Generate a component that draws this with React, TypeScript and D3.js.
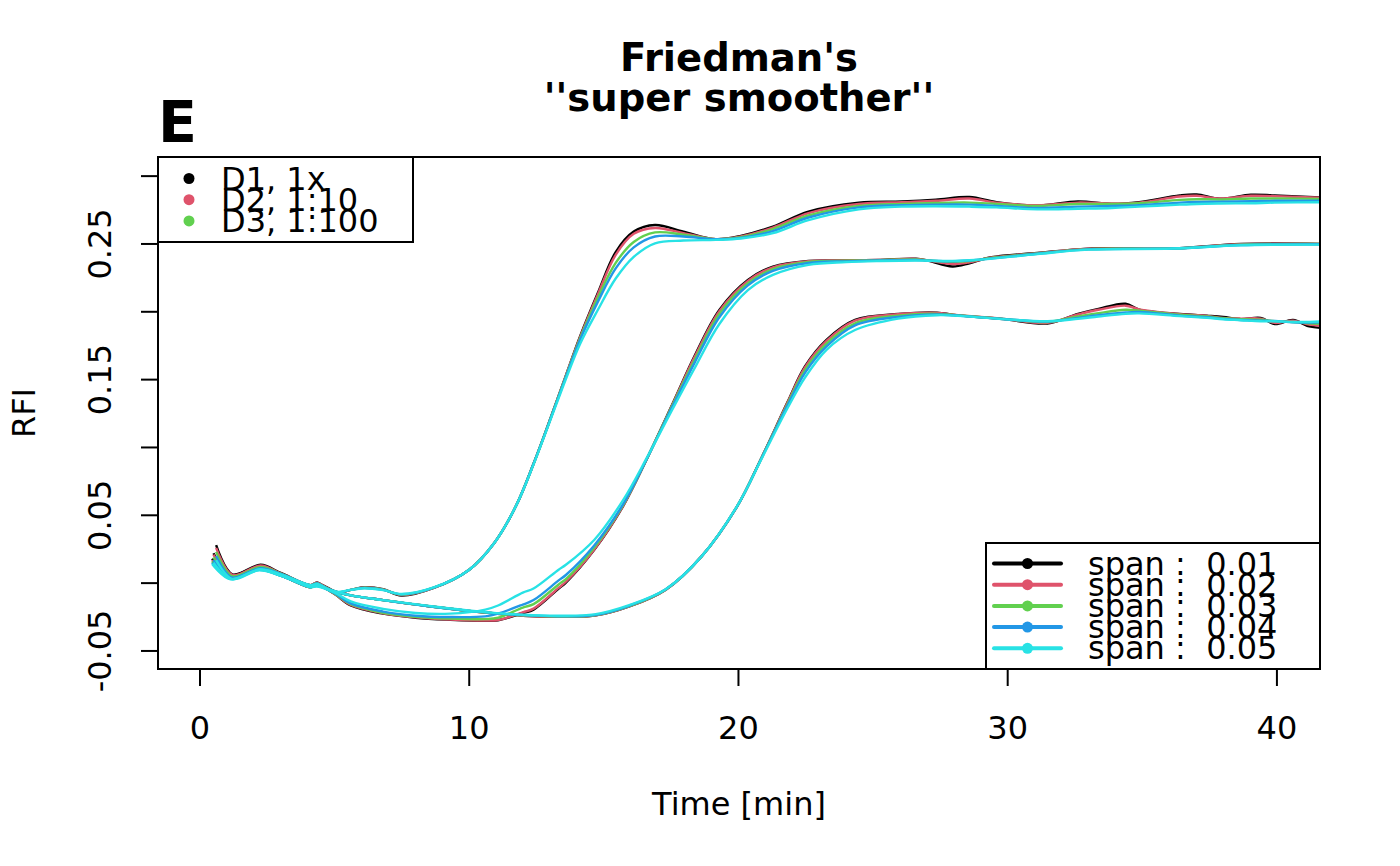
import React from 'react';
import * as d3 from 'd3';

// smoothing spans, in the legend's order
const spans = ['0.01', '0.02', '0.03', '0.04', '0.05'];
const spanColors = ['#000000', '#DF536B', '#61D04F', '#2297E6', '#28E2E5'];

const dataLabels = ['D1, 1x', 'D2, 1:10', 'D3, 1:100'];
const dataColors = ['#000000', '#DF536B', '#61D04F'];

const xTicks = [0, 10, 20, 30, 40];
const yTicks = [-0.05, 0, 0.05, 0.1, 0.15, 0.2, 0.25, 0.3];
const yLabels = [-0.05, 0.05, 0.15, 0.25];

// curve A (earliest rise)
const timeA = [0.6, 1.2, 2.25, 3.0, 4.1, 4.35, 5.0, 5.6, 6.1, 6.8, 7.48, 8.68, 10.0, 10.93, 11.73, 12.39, 12.92, 13.59, 14.12, 14.78, 15.44, 16.11, 16.9, 17.96, 19.16, 20.09, 21.28, 22.6, 24.47, 26.07, 27.33, 28.58, 29.59, 31.1, 32.61, 33.87, 34.88, 36.39, 37.02, 37.89, 39.03, 39.92, 41.8];
const a01 = [0.028, 0.0065, 0.0135, 0.0075, -0.0015, 0.0005, -0.0075, -0.005, -0.003, -0.0045, -0.0092, -0.0035, 0.0099, 0.0296, 0.0566, 0.088, 0.116, 0.153, 0.182, 0.214, 0.244, 0.2591, 0.264, 0.2591, 0.2535, 0.2559, 0.2628, 0.2738, 0.2804, 0.2813, 0.2826, 0.2846, 0.2808, 0.2783, 0.2813, 0.2795, 0.2808, 0.2858, 0.2865, 0.2833, 0.2863, 0.2858, 0.284];
const a02 = [0.026, 0.006, 0.013, 0.0072, -0.0015, 0.0003, -0.0072, -0.005, -0.0032, -0.0046, -0.0088, -0.0035, 0.0099, 0.0296, 0.0566, 0.088, 0.116, 0.153, 0.1815, 0.213, 0.242, 0.2575, 0.2618, 0.258, 0.2535, 0.2555, 0.262, 0.2728, 0.2795, 0.2808, 0.2818, 0.2835, 0.2805, 0.2785, 0.2805, 0.2798, 0.2805, 0.285, 0.2855, 0.2835, 0.2855, 0.2852, 0.284];
const a03 = [0.023, 0.005, 0.012, 0.007, -0.0015, 0.0, -0.007, -0.005, -0.0034, -0.0048, -0.0085, -0.0034, 0.0099, 0.0296, 0.0566, 0.088, 0.116, 0.1525, 0.1805, 0.2105, 0.236, 0.2515, 0.2585, 0.2568, 0.2535, 0.255, 0.261, 0.271, 0.278, 0.2795, 0.2802, 0.2805, 0.2795, 0.278, 0.2795, 0.2795, 0.28, 0.2825, 0.283, 0.2828, 0.2835, 0.2835, 0.2832];
const a04 = [0.02, 0.004, 0.011, 0.0068, -0.0015, -0.0003, -0.0068, -0.005, -0.0036, -0.005, -0.0082, -0.0033, 0.0099, 0.0296, 0.0566, 0.088, 0.1158, 0.152, 0.1795, 0.2075, 0.232, 0.2475, 0.2555, 0.2555, 0.2535, 0.2545, 0.2595, 0.2695, 0.277, 0.2785, 0.279, 0.279, 0.278, 0.2765, 0.2775, 0.278, 0.2785, 0.2805, 0.281, 0.2812, 0.2815, 0.2818, 0.2818];
const a05 = [0.017, 0.003, 0.01, 0.0065, -0.0015, -0.0006, -0.0065, -0.005, -0.0038, -0.0052, -0.008, -0.0032, 0.0099, 0.0296, 0.0566, 0.0875, 0.1152, 0.1505, 0.1765, 0.2015, 0.2245, 0.2405, 0.2505, 0.2525, 0.253, 0.254, 0.258, 0.2675, 0.2755, 0.2775, 0.2778, 0.2775, 0.277, 0.2755, 0.276, 0.2765, 0.2775, 0.279, 0.2795, 0.2798, 0.28, 0.2805, 0.2808];

// curve B (middle rise)
const timeB = [0.5, 1.15, 2.2, 3.0, 4.1, 4.35, 5.0, 5.6, 6.8, 8.0, 9.3, 10.6, 11.07, 11.99, 12.39, 13.32, 13.59, 14.65, 15.71, 16.64, 17.57, 18.36, 19.29, 20.35, 21.28, 22.6, 24.0, 25.26, 26.59, 27.06, 27.95, 28.58, 29.34, 31.1, 32.99, 36.14, 38.66, 41.8];
const b01 = [0.022, 0.006, 0.012, 0.006, -0.003, -0.001, -0.008, -0.0165, -0.0225, -0.0255, -0.027, -0.0278, -0.0274, -0.022, -0.0195, -0.004, 0.0004, 0.0247, 0.0566, 0.0934, 0.1329, 0.167, 0.2014, 0.2235, 0.2333, 0.2375, 0.2378, 0.2382, 0.2391, 0.2376, 0.2334, 0.2358, 0.24, 0.2433, 0.2466, 0.2466, 0.25, 0.25];
const b02 = [0.021, 0.0055, 0.0115, 0.006, -0.003, -0.0012, -0.008, -0.016, -0.0222, -0.0252, -0.0268, -0.0275, -0.0272, -0.0215, -0.0188, -0.0035, 0.001, 0.025, 0.0568, 0.0934, 0.1325, 0.1662, 0.2005, 0.2228, 0.2328, 0.2373, 0.2378, 0.2382, 0.239, 0.2378, 0.2352, 0.2365, 0.2398, 0.2432, 0.2465, 0.2466, 0.2498, 0.25];
const b03 = [0.019, 0.005, 0.011, 0.0058, -0.003, -0.0015, -0.0078, -0.0155, -0.0218, -0.0248, -0.0262, -0.0265, -0.0255, -0.018, -0.0155, -0.001, 0.003, 0.0265, 0.0575, 0.0934, 0.132, 0.164, 0.1985, 0.221, 0.2315, 0.2368, 0.2376, 0.2381, 0.2386, 0.2378, 0.2368, 0.2374, 0.2395, 0.243, 0.2462, 0.2466, 0.2495, 0.25];
const b04 = [0.017, 0.004, 0.0105, 0.0056, -0.003, -0.002, -0.0075, -0.015, -0.021, -0.024, -0.025, -0.0245, -0.0225, -0.0158, -0.0125, 0.002, 0.006, 0.028, 0.058, 0.0934, 0.131, 0.162, 0.196, 0.2195, 0.2302, 0.236, 0.2372, 0.2378, 0.2382, 0.2377, 0.2372, 0.2378, 0.2392, 0.2428, 0.246, 0.2466, 0.2492, 0.2498];
const b05 = [0.015, 0.003, 0.01, 0.0055, -0.003, -0.0025, -0.007, -0.0135, -0.019, -0.022, -0.0225, -0.0195, -0.0165, -0.007, -0.004, 0.0099, 0.0135, 0.032, 0.061, 0.094, 0.129, 0.158, 0.191, 0.216, 0.2272, 0.2346, 0.2366, 0.2374, 0.2378, 0.2376, 0.2375, 0.238, 0.239, 0.2425, 0.2458, 0.2466, 0.249, 0.2495];

// curve C (latest rise)
const timeC = [0.45, 1.1, 2.2, 3.0, 4.1, 4.35, 5.0, 5.6, 6.8, 8.5, 10.5, 12.0, 13.3, 14.65, 15.97, 17.3, 18.63, 19.95, 20.88, 21.81, 22.47, 23.27, 24.33, 25.93, 27.38, 28.0, 29.84, 31.48, 32.61, 33.37, 34.38, 34.88, 36.39, 37.4, 38.0, 38.66, 39.4, 39.92, 40.6, 41.2, 41.8];
const c01 = [0.018, 0.005, 0.011, 0.0055, -0.002, 0.0, -0.006, -0.009, -0.0125, -0.017, -0.0215, -0.024, -0.0248, -0.024, -0.017, -0.0048, 0.0197, 0.0566, 0.0934, 0.1329, 0.1597, 0.1793, 0.194, 0.1984, 0.1994, 0.1977, 0.1946, 0.1914, 0.1984, 0.2021, 0.2059, 0.2016, 0.1984, 0.1971, 0.1962, 0.1946, 0.1955, 0.191, 0.194, 0.1892, 0.188];
const c02 = [0.017, 0.0045, 0.0105, 0.0055, -0.002, -0.0005, -0.006, -0.009, -0.0125, -0.017, -0.0215, -0.024, -0.0248, -0.024, -0.017, -0.0048, 0.0197, 0.0566, 0.0933, 0.1325, 0.159, 0.1785, 0.1935, 0.1982, 0.1992, 0.1978, 0.1948, 0.1918, 0.198, 0.2015, 0.2045, 0.2018, 0.1983, 0.197, 0.1955, 0.195, 0.195, 0.1918, 0.1935, 0.1905, 0.1895];
const c03 = [0.016, 0.004, 0.01, 0.0055, -0.002, -0.001, -0.006, -0.009, -0.0125, -0.017, -0.0215, -0.0238, -0.0246, -0.0238, -0.0168, -0.0047, 0.0197, 0.0566, 0.0932, 0.1315, 0.157, 0.1765, 0.1915, 0.1972, 0.1985, 0.1976, 0.1948, 0.1925, 0.1965, 0.199, 0.2015, 0.2008, 0.1978, 0.1965, 0.1952, 0.1945, 0.1942, 0.193, 0.1925, 0.1915, 0.191];
const c04 = [0.015, 0.0035, 0.0098, 0.0055, -0.002, -0.0015, -0.006, -0.009, -0.0125, -0.017, -0.0214, -0.0236, -0.0244, -0.0235, -0.0165, -0.0046, 0.0197, 0.0566, 0.093, 0.1305, 0.155, 0.1745, 0.19, 0.1962, 0.198, 0.1974, 0.1947, 0.1928, 0.1955, 0.1975, 0.1995, 0.1998, 0.1972, 0.196, 0.1948, 0.194, 0.1935, 0.1932, 0.1922, 0.192, 0.1925];
const c05 = [0.014, 0.003, 0.0095, 0.0055, -0.002, -0.002, -0.006, -0.009, -0.0125, -0.0168, -0.0212, -0.0233, -0.024, -0.023, -0.016, -0.0045, 0.0197, 0.0568, 0.0925, 0.1285, 0.1515, 0.172, 0.1866, 0.195, 0.1975, 0.1972, 0.1946, 0.193, 0.1948, 0.1965, 0.1985, 0.1988, 0.1968, 0.1955, 0.1945, 0.1938, 0.193, 0.193, 0.1925, 0.1925, 0.193];

const curves = [
  { time: timeA, spans: [a01, a02, a03, a04, a05] },
  { time: timeB, spans: [b01, b02, b03, b04, b05] },
  { time: timeC, spans: [c01, c02, c03, c04, c05] },
];

const W = 1400;
const H = 866;
const font = 'DejaVu Sans, sans-serif';

export default function App() {
  const left = 158, right = 1320, top = 157, bottom = 669;
  const x = d3.scaleLinear().domain([-1.56, 41.6]).range([left, right]);
  const y = d3.scaleLinear().domain([-0.0633, 0.3141]).range([bottom, top]);

  const line = d3
    .line<[number, number]>()
    .x((d) => x(d[0]))
    .y((d) => y(d[1]))
    .curve(d3.curveCatmullRom.alpha(0.5));

  const fs = 32;
  const rowH = 21.2;

  return (
    <div style={{ position: 'absolute', left: 0, top: 0 }}>
      <svg width={W} height={H} viewBox={`0 0 ${W} ${H}`} fontFamily={font}>
        <rect width={W} height={H} fill="#fff" />
        <defs>
          <clipPath id="plot-clip">
            <rect x={left} y={top} width={right - left} height={bottom - top} />
          </clipPath>
        </defs>

        {/* title */}
        <text x={(left + right) / 2} y={71} textAnchor="middle" fontSize={38.5} fontWeight="bold">Friedman's</text>
        <text x={(left + right) / 2} y={111} textAnchor="middle" fontSize={38.5} fontWeight="bold">''super smoother''</text>
        <text x={left} y={142} fontSize={57} fontWeight="bold">E</text>

        {/* lines: each span drawn over the previous one */}
        <g clipPath="url(#plot-clip)">
          {spans.map((s, si) =>
            curves.map((c, ci) => (
              <path
                key={`${si}-${ci}`}
                d={line(c.time.map((t, i) => [t, c.spans[si][i]] as [number, number])) || undefined}
                fill="none"
                stroke={spanColors[si]}
                strokeWidth={2.4}
                strokeLinejoin="round"
              />
            ))
          )}
        </g>

        <rect x={left} y={top} width={right - left} height={bottom - top} fill="none" stroke="#000" strokeWidth={2} />

        {/* x axis */}
        <line x1={x(xTicks[0])} x2={x(xTicks[xTicks.length - 1])} y1={bottom} y2={bottom} stroke="#000" strokeWidth={2} />
        {xTicks.map((t) => (
          <g key={t}>
            <line x1={x(t)} x2={x(t)} y1={bottom} y2={bottom + 17} stroke="#000" strokeWidth={2} />
            <text x={x(t)} y={739} textAnchor="middle" fontSize={fs}>{t}</text>
          </g>
        ))}
        <text x={(left + right) / 2} y={815} textAnchor="middle" fontSize={fs}>Time [min]</text>

        {/* y axis */}
        <line x1={left} x2={left} y1={y(yTicks[0])} y2={y(yTicks[yTicks.length - 1])} stroke="#000" strokeWidth={2} />
        {yTicks.map((t) => (
          <line key={t} x1={left - 17} x2={left} y1={y(t)} y2={y(t)} stroke="#000" strokeWidth={2} />
        ))}
        {yLabels.map((t) => (
          <text key={t} transform={`translate(111,${y(t)}) rotate(-90)`} textAnchor="middle" fontSize={fs}>
            {t.toFixed(2)}
          </text>
        ))}
        <text transform={`translate(35,${(top + bottom) / 2}) rotate(-90)`} textAnchor="middle" fontSize={fs}>RFI</text>

        {/* data set legend */}
        <g>
          <rect x={left} y={top} width={255} height={85} fill="#fff" stroke="#000" strokeWidth={2} />
          {dataLabels.map((lab, i) => (
            <g key={lab}>
              <circle cx={189} cy={178.5 + i * rowH} r={5.5} fill={dataColors[i]} />
              <text x={221} y={178.5 + i * rowH + 11} fontSize={fs}>{lab}</text>
            </g>
          ))}
        </g>

        {/* span legend */}
        <g>
          <rect x={986} y={543} width={right - 986} height={bottom - 543} fill="#fff" stroke="#000" strokeWidth={2} />
          {spans.map((s, i) => (
            <g key={s}>
              <line x1={994} x2={1061} y1={563.5 + i * rowH} y2={563.5 + i * rowH} stroke={spanColors[i]} strokeWidth={4} strokeLinecap="round" />
              <circle cx={1027.5} cy={563.5 + i * rowH} r={5.5} fill={spanColors[i]} />
              <text x={1088} y={563.5 + i * rowH + 11} fontSize={fs} style={{ whiteSpace: 'pre' }}>
                {`span :  ${s}`}
              </text>
            </g>
          ))}
        </g>
      </svg>
    </div>
  );
}
